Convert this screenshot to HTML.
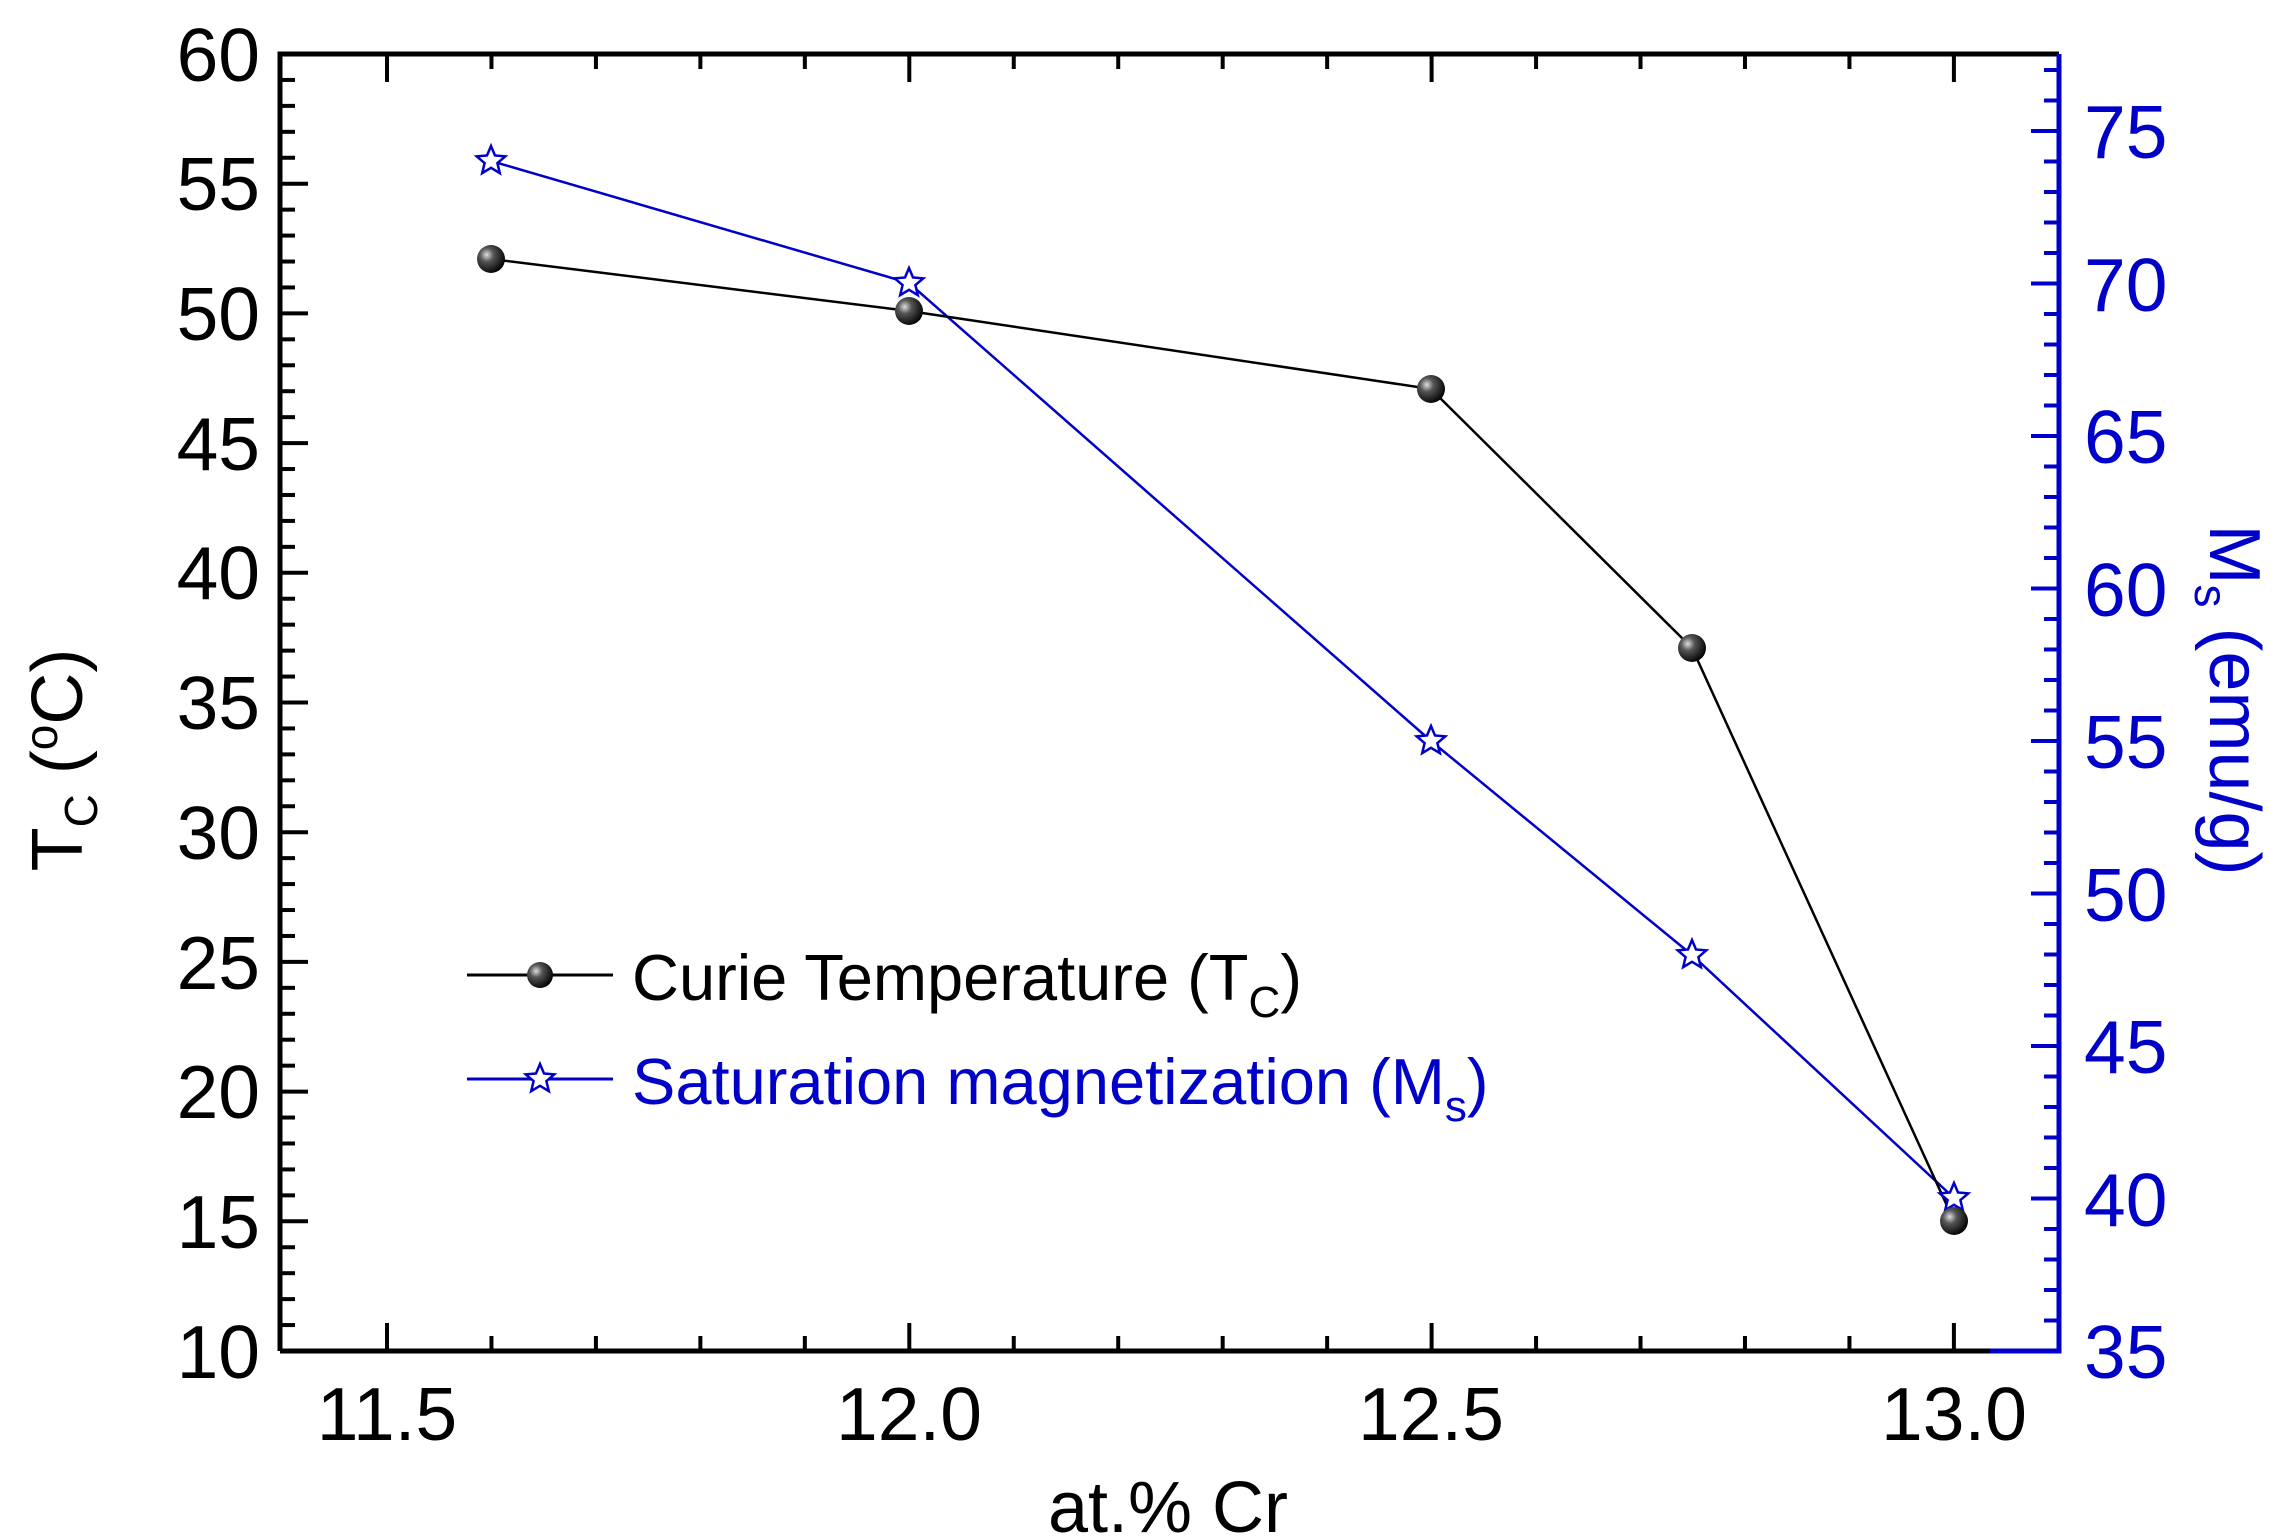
<!DOCTYPE html>
<html><head><meta charset="utf-8"><style>
html,body{margin:0;padding:0;background:#fff;width:2278px;height:1539px;overflow:hidden}
svg{display:block}
text{font-family:"Liberation Sans",Arial,sans-serif}
</style></head><body>
<svg id="s" width="2278" height="1539" viewBox="0 0 2278 1539" xmlns="http://www.w3.org/2000/svg">
<defs>
<radialGradient id="ball" cx="0.35" cy="0.35" r="0.7">
<stop offset="0" stop-color="#ddd"/><stop offset="0.35" stop-color="#555"/><stop offset="1" stop-color="#000"/>
</radialGradient>
</defs>
<g id="ticks"></g>
<path d="M280,1351 L280,54 L2059,54" fill="none" stroke="#000" stroke-width="5"/>
<path d="M280,1351 L1990,1351" fill="none" stroke="#000" stroke-width="5"/>
<path d="M1990,1351 L2059,1351 L2059,54" fill="none" stroke="#0000c8" stroke-width="5"/>
<g font-size="75" text-anchor="end" fill="#000">
<text x="260" y="1378">10</text>
<text x="260" y="1248">15</text>
<text x="260" y="1118">20</text>
<text x="260" y="989">25</text>
<text x="260" y="859">30</text>
<text x="260" y="729">35</text>
<text x="260" y="599">40</text>
<text x="260" y="470">45</text>
<text x="260" y="340">50</text>
<text x="260" y="210">55</text>
<text x="260" y="81">60</text>
</g>
<g font-size="75" text-anchor="start" fill="#0000c8">
<text x="2084" y="1378">35</text>
<text x="2084" y="1226">40</text>
<text x="2084" y="1073">45</text>
<text x="2084" y="921">50</text>
<text x="2084" y="768">55</text>
<text x="2084" y="616">60</text>
<text x="2084" y="463">65</text>
<text x="2084" y="311">70</text>
<text x="2084" y="158">75</text>
</g>
<g font-size="75" text-anchor="middle" fill="#000">
<text x="387" y="1440">11.5</text>
<text x="909" y="1440">12.0</text>
<text x="1431" y="1440">12.5</text>
<text x="1954" y="1440">13.0</text>
</g>
<text x="1168" y="1532" font-size="72" text-anchor="middle">at.% Cr</text>
<text transform="translate(82,760) rotate(-90)" font-size="72" text-anchor="middle">T<tspan font-size="46" dy="15">C</tspan><tspan dy="-15"> (</tspan><tspan font-size="46" dy="-25">o</tspan><tspan dy="25">C)</tspan></text>
<text transform="translate(2210,700) rotate(90)" font-size="72" text-anchor="middle" fill="#0000c8">M<tspan font-size="46" dy="15">s</tspan><tspan dy="-15"> (emu/g)</tspan></text>
<polyline points="491,161 909,283 1431,741 1692,955 1954,1198" fill="none" stroke="#0000c8" stroke-width="2.5"/>
<polyline points="491,259 909,311 1431,389 1692,648 1954,1221" fill="none" stroke="#000" stroke-width="2.5"/>
<g id="pts"></g>
<line x1="467" y1="975" x2="613" y2="975" stroke="#000" stroke-width="3"/>
<circle cx="540" cy="975" r="13" fill="url(#ball)"/>
<text x="632" y="1000" font-size="65" fill="#000">Curie Temperature (T<tspan font-size="44" dy="17">C</tspan><tspan dy="-17">)</tspan></text>
<line x1="467" y1="1079" x2="613" y2="1079" stroke="#0000c8" stroke-width="3"/>
<path id="legstar" d="" fill="#fff" stroke="#0000c8" stroke-width="2.5"/>
<text x="632" y="1104" font-size="65" fill="#0000c8">Saturation magnetization (M<tspan font-size="44" dy="17">s</tspan><tspan dy="-17">)</tspan></text>
</svg>
<script>
var NS="http://www.w3.org/2000/svg",g=document.getElementById('ticks');
function L(x1,y1,x2,y2,c,w){var l=document.createElementNS(NS,'line');l.setAttribute('x1',x1);l.setAttribute('y1',y1);l.setAttribute('x2',x2);l.setAttribute('y2',y2);l.setAttribute('stroke',c);l.setAttribute('stroke-width',w||5);g.appendChild(l);}
function xp(v){return 387+(v-11.5)*1044.6;}
for(var i=0;i<=16;i++){var v=11.4+i*0.1;var x=xp(v);var maj=Math.abs((v*2)-Math.round(v*2))<1e-6;var len=maj?28:15;if(x<285||x>2054)continue;L(x,1351,x,1351-len,'#000',4);L(x,54,x,54+len,'#000',4);}
for(var v=10;v<=60;v++){var y=1351-(v-10)*25.94;var len=v%5==0?28:15;L(280,y,280+len,y,'#000',4);}
for(var v=35;v<=77;v++){var y=1351-(v-35)*30.5;if(y<56)continue;var len=v%5==0?28:15;L(2059,y,2059-len,y,'#0000c8',4);}
function star(cx,cy,r){var d='';for(var k=0;k<10;k++){var a=-Math.PI/2+k*Math.PI/5;var rr=k%2?r*0.45:r;d+=(k?'L':'M')+(cx+rr*Math.cos(a)).toFixed(1)+','+(cy+rr*Math.sin(a)).toFixed(1);}return d+'Z';}
var p=document.getElementById('pts');
[[491,161],[909,283],[1431,741],[1692,955],[1954,1198]].forEach(function(q){var s=document.createElementNS(NS,'path');s.setAttribute('d',star(q[0],q[1],15));s.setAttribute('fill','#fff');s.setAttribute('stroke','#0000c8');s.setAttribute('stroke-width','2.5');p.appendChild(s);});
[[491,259],[909,311],[1431,389],[1692,648],[1954,1221]].forEach(function(q){var c=document.createElementNS(NS,'circle');c.setAttribute('cx',q[0]);c.setAttribute('cy',q[1]);c.setAttribute('r',14);c.setAttribute('fill','url(#ball)');p.appendChild(c);});
document.getElementById('legstar').setAttribute('d',star(540,1079,15));
</script>
</body></html>
